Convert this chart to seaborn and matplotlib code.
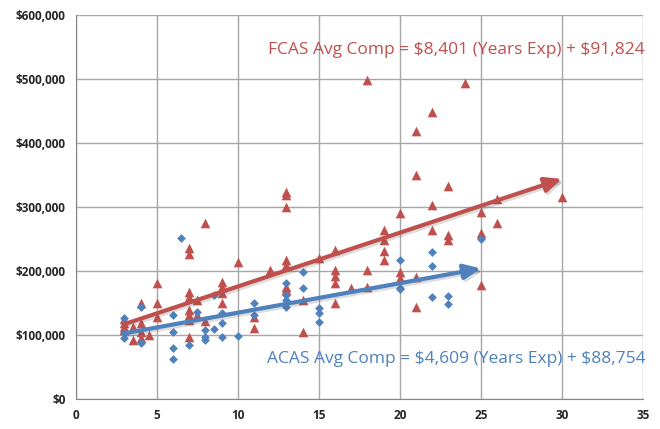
import matplotlib
matplotlib.use("Agg")
import matplotlib.pyplot as plt
import matplotlib.patheffects as pe
import numpy as np
import pandas as pd
import seaborn as sns

# FCAS (red triangles): years of experience, compensation
fcas_years = [3, 3, 3, 3, 3.5, 3.5, 4, 4, 4, 4, 4.5, 5, 5, 5,
              7, 7, 7, 7, 7, 7, 7, 7, 7.5, 7.5, 8, 8,
              9, 9, 9, 9, 10, 11, 11, 12,
              13, 13, 13, 13, 13, 13, 13, 14, 14, 15,
              16, 16, 16, 16, 16, 17, 18, 18, 18,
              19, 19, 19, 19, 20, 20, 20,
              21, 21, 21, 21, 22, 22, 22, 23, 23, 23, 24,
              25, 25, 25, 26, 26, 30]
fcas_comp = [125000, 118000, 112000, 108000, 112000, 92000, 150000, 118000, 105000, 95000,
             100000, 181000, 150000, 128000,
             236000, 226000, 167000, 160000, 139000, 131000, 123000, 97000, 155000, 131000,
             275000, 122000,
             183000, 175000, 165000, 150000, 214000, 128000, 111000, 201000,
             323000, 319000, 300000, 217000, 209000, 175000, 170000, 105000, 155000, 220000,
             233000, 202000, 192000, 181000, 150000, 173000, 498000, 202000, 175000,
             264000, 248000, 231000, 217000, 290000, 199000, 189000,
             419000, 350000, 191000, 144000, 448000, 303000, 264000, 333000, 256000, 248000,
             494000,
             292000, 259000, 178000, 312000, 275000, 316000]

# ACAS (blue diamonds)
acas_years = [3, 3, 3, 4, 4, 6, 6, 6, 6, 6.5, 7, 7.5, 8, 8, 8, 8.5, 8.5,
              9, 9, 9, 10, 11, 11, 13, 13, 13, 13, 14, 14, 15, 15, 15,
              20, 20, 20, 22, 22, 22, 23, 23, 25]
acas_comp = [126000, 103000, 95000, 143000, 88000, 131000, 105000, 80000, 62000, 251000,
             84000, 136000, 108000, 97000, 92000, 109000, 162000,
             134000, 119000, 97000, 98000, 150000, 131000, 181000, 162000, 155000, 144000,
             198000, 173000, 142000, 134000, 120000,
             217000, 173000, 172000, 230000, 208000, 159000, 161000, 148000, 250000]

# fitted trend lines (slope, intercept, x range)
fcas_fit = (8401, 91824, 3, 30)
acas_fit = (4609, 88754, 3, 25)

RED = "#C0504D"
BLUE = "#4F81BD"

fcas = pd.DataFrame({"years": fcas_years, "comp": fcas_comp})
acas = pd.DataFrame({"years": acas_years, "comp": acas_comp})

sns.set_style("white")
plt.rcParams["font.family"] = ["Open Sans", "DejaVu Sans"]

fig = plt.figure(figsize=(6.6, 4.29), dpi=100)
ax = fig.add_axes([0.115, 0.070, 0.859, 0.895])

sns.scatterplot(data=fcas, x="years", y="comp", color=RED, marker="^",
                s=48, linewidth=0, ax=ax, zorder=3)
sns.scatterplot(data=acas, x="years", y="comp", color=BLUE, marker="D",
                s=20, linewidth=0, ax=ax, zorder=3)

shadow = [pe.SimpleLineShadow(offset=(1.5, -1.5), alpha=0.2, shadow_color="#555555"),
          pe.Normal()]
for (m, b, x0, x1), col in [(fcas_fit, RED), (acas_fit, BLUE)]:
    ax.annotate("", xy=(x1, m * x1 + b), xytext=(x0, m * x0 + b),
                arrowprops=dict(arrowstyle="-|>,head_length=1.0,head_width=0.45",
                                color=col, lw=3, shrinkA=0, shrinkB=0,
                                path_effects=shadow),
                zorder=4)

ax.text(23.5, 545000, r"FCAS Avg Comp = \$8,401 (Years Exp) + \$91,824",
        color=RED, fontsize=12.5, ha="center", va="center")
ax.text(23.5, 63000, r"ACAS Avg Comp = \$4,609 (Years Exp) + \$88,754",
        color=BLUE, fontsize=12.5, ha="center", va="center")

ax.set_xlim(0, 35)
ax.set_ylim(0, 600000)
ax.set_xticks(range(0, 36, 5))
ax.set_yticks(range(0, 600001, 100000))
ax.set_yticklabels([f"${v:,}" for v in range(0, 600001, 100000)])
ax.set_xlabel("")
ax.set_ylabel("")
ax.grid(True, color="#A6A6A6", lw=1)
ax.set_axisbelow(True)
for side in ["top", "right"]:
    ax.spines[side].set_visible(False)
for side in ["left", "bottom"]:
    ax.spines[side].set_color("#868686")
ax.tick_params(axis="both", length=4, color="#868686", labelsize=8.5, direction="out")
for lab in ax.get_xticklabels() + ax.get_yticklabels():
    lab.set_fontweight("bold")

fig.savefig("out.png", dpi=100)
